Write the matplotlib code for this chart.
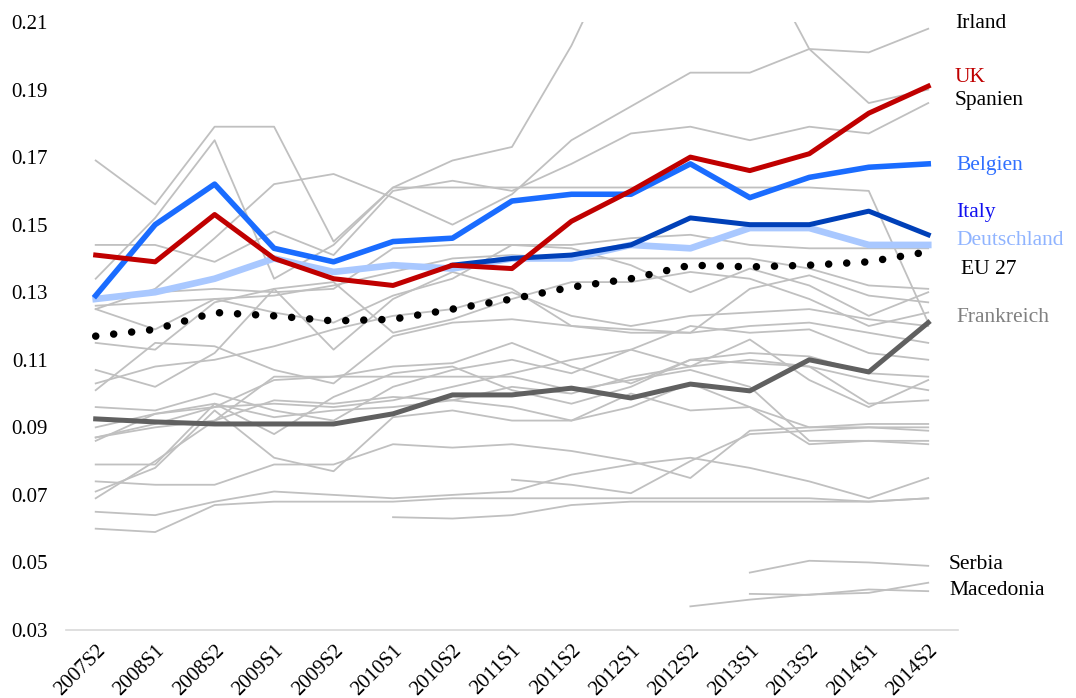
import matplotlib
matplotlib.use("Agg")
import matplotlib.pyplot as plt
import numpy as np

plt.rcParams['font.family'] = ['Liberation Serif', 'DejaVu Serif']

periods = ["2007S2", "2008S1", "2008S2", "2009S1", "2009S2", "2010S1", "2010S2",
           "2011S1", "2011S2", "2012S1", "2012S2", "2013S1", "2013S2", "2014S1", "2014S2"]
N = None

uk = [0.141, 0.139, 0.153, 0.140, 0.134, 0.132, 0.138, 0.137, 0.151, 0.160, 0.170, 0.166, 0.171, 0.183, 0.191]
belgien = [0.129, 0.150, 0.162, 0.143, 0.139, 0.145, 0.146, 0.157, 0.159, 0.159, 0.168, 0.158, 0.164, 0.167, 0.168]
italy = [N, N, N, N, N, N, 0.138, 0.140, 0.141, 0.144, 0.152, 0.150, 0.150, 0.154, 0.147]
deutschland = [0.128, 0.130, 0.134, 0.140, 0.136, 0.138, 0.137, 0.140, 0.140, 0.144, 0.143, 0.149, 0.149, 0.144, 0.144]
eu27 = [0.117, 0.119, 0.124, 0.123, 0.1215, 0.122, 0.125, 0.128, 0.1315, 0.134, 0.138, 0.1375, 0.138, 0.139, 0.142]
frankreich = [0.0925, 0.0916, 0.091, 0.091, 0.091, 0.094, 0.0996, 0.0996, 0.1016, 0.0987, 0.1028, 0.1008, 0.110, 0.1064, 0.121]

grey_lines = [
    [0.169, 0.156, 0.179, 0.179, 0.145, 0.161, 0.169, 0.173, 0.203, 0.240, 0.250, 0.235, 0.202, 0.186, 0.190],
    [0.134, 0.152, 0.175, 0.134, 0.144, 0.161, 0.161, 0.161, 0.161, 0.161, 0.161, 0.161, 0.161, 0.160, 0.121],
    [0.125, 0.131, 0.146, 0.162, 0.165, 0.158, 0.150, 0.159, 0.175, 0.185, 0.195, 0.195, 0.202, 0.201, 0.208],
    [0.144, 0.144, 0.139, 0.148, 0.141, 0.160, 0.163, 0.160, 0.168, 0.177, 0.179, 0.175, 0.179, 0.177, 0.186],
    [0.128, 0.130, 0.131, 0.130, 0.131, 0.143, 0.144, 0.144, 0.144, 0.146, 0.147, 0.144, 0.143, 0.143, 0.143],
    [0.126, 0.127, 0.128, 0.129, 0.132, 0.136, 0.140, 0.141, 0.140, 0.140, 0.140, 0.140, 0.137, 0.132, 0.131],
    [0.125, 0.119, 0.128, 0.124, 0.121, 0.129, 0.134, 0.144, 0.143, 0.138, 0.130, 0.137, 0.132, 0.123, 0.130],
    [0.115, 0.113, 0.127, 0.131, 0.113, 0.128, 0.136, 0.131, 0.120, 0.118, 0.118, 0.131, 0.135, 0.129, 0.127],
    [0.107, 0.102, 0.112, 0.131, 0.133, 0.118, 0.122, 0.128, 0.133, 0.133, 0.136, 0.134, 0.128, 0.120, 0.124],
    [0.103, 0.108, 0.110, 0.114, 0.119, 0.123, 0.125, 0.130, 0.123, 0.120, 0.123, 0.124, 0.125, 0.122, 0.120],
    [0.101, 0.115, 0.114, 0.107, 0.103, 0.117, 0.121, 0.122, 0.120, 0.119, 0.118, 0.120, 0.121, 0.118, 0.115],
    [0.096, 0.095, 0.100, 0.095, 0.092, 0.102, 0.107, 0.110, 0.106, 0.113, 0.120, 0.118, 0.119, 0.112, 0.110],
    [0.090, 0.094, 0.096, 0.104, 0.105, 0.108, 0.109, 0.115, 0.108, 0.103, 0.110, 0.112, 0.111, 0.106, 0.105],
    [0.087, 0.091, 0.096, 0.097, 0.096, 0.098, 0.102, 0.106, 0.110, 0.113, 0.108, 0.116, 0.104, 0.096, 0.104],
    [0.087, 0.090, 0.092, 0.098, 0.097, 0.099, 0.098, 0.102, 0.100, 0.105, 0.108, 0.110, 0.108, 0.104, 0.101],
    [0.086, 0.094, 0.097, 0.088, 0.099, 0.106, 0.108, 0.101, 0.097, 0.102, 0.110, 0.109, 0.108, 0.097, 0.098],
    [0.079, 0.079, 0.097, 0.093, 0.095, 0.096, 0.098, 0.096, 0.092, 0.100, 0.095, 0.096, 0.090, 0.091, 0.091],
    [0.074, 0.073, 0.073, 0.079, 0.079, 0.085, 0.084, 0.085, 0.083, 0.080, 0.075, 0.089, 0.090, 0.090, 0.089],
    [0.071, 0.078, 0.095, 0.081, 0.077, 0.093, 0.095, 0.092, 0.092, 0.096, 0.103, 0.096, 0.085, 0.086, 0.086],
    [0.069, 0.080, 0.092, 0.105, 0.105, 0.105, 0.105, 0.105, 0.101, 0.104, 0.107, 0.102, 0.086, 0.086, 0.085],
    [0.065, 0.064, 0.068, 0.071, 0.070, 0.069, 0.070, 0.071, 0.076, 0.079, 0.081, 0.078, 0.074, 0.069, 0.075],
    [0.060, 0.059, 0.067, 0.068, 0.068, 0.068, 0.069, 0.069, 0.069, 0.069, 0.069, 0.069, 0.069, 0.068, 0.069],
    [N, N, N, N, N, 0.0634, 0.063, 0.064, 0.067, 0.068, 0.068, 0.068, 0.068, 0.068, 0.069],
    [N, N, N, N, N, N, N, 0.0745, 0.073, 0.0705, 0.080, 0.088, 0.089, 0.090, 0.090],
    [N, N, N, N, N, N, N, N, N, N, N, 0.047, 0.0505, 0.050, 0.049],
    [N, N, N, N, N, N, N, N, N, N, N, 0.0407, 0.0404, 0.042, 0.0415],
    [N, N, N, N, N, N, N, N, N, N, 0.037, 0.039, 0.0405, 0.041, 0.044],
]

yticks = [0.03, 0.05, 0.07, 0.09, 0.11, 0.13, 0.15, 0.17, 0.19, 0.21]

def arr(v):
    return np.array([np.nan if a is None else a for a in v], dtype=float)

fig = plt.figure(figsize=(10.76, 6.98), dpi=100)
ax = fig.add_axes([0.0613, 0.0974, 0.8290, 0.8711])
x = np.arange(len(periods))

for g in grey_lines:
    ax.plot(x, arr(g), color='#c0c0c0', lw=1.3, zorder=1)

ax.plot(x, arr(frankreich), color='#606060', lw=3.6, zorder=3)
ax.plot(x, arr(eu27), color='black', lw=5.4, linestyle=(0, (0.01, 2.4)),
        dash_capstyle='round', zorder=4)
ax.plot(x, arr(deutschland), color='#a9c8ff', lw=4.8, zorder=5)
ax.plot(x, arr(italy), color='#0040b8', lw=3.6, zorder=6)
ax.plot(x, arr(belgien), color='#1a6cff', lw=4.0, zorder=7)
ax.plot(x, arr(uk), color='#c00000', lw=3.6, zorder=8)

ax.set_xlim(-0.5, 14.5)
ax.set_ylim(0.03, 0.21)
ax.set_yticks(yticks)
ax.set_yticklabels([f"{t:.2f}" for t in yticks])
ax.set_xticks(x)
ax.set_xticklabels(periods, rotation=45, ha='right', rotation_mode='anchor')
ax.tick_params(axis='both', length=0, labelsize=15, colors='black')
ax.tick_params(axis='y', pad=13)
ax.tick_params(axis='x', pad=8)
for s in ['top', 'right', 'left']:
    ax.spines[s].set_visible(False)
ax.spines['bottom'].set_color('#d9d9d9')
ax.spines['bottom'].set_linewidth(1.2)

labels = [
    ("Irland", 14.45, 0.2095, 'black'),
    ("UK", 14.45, 0.1937, '#c00000'),
    ("Spanien", 14.45, 0.1869, 'black'),
    ("Belgien", 14.47, 0.1674, '#3070ff'),
    ("Italy", 14.47, 0.1535, '#1010f0'),
    ("Deutschland", 14.47, 0.1452, '#90b4ff'),
    ("EU 27", 14.55, 0.1366, 'black'),
    ("Frankreich", 14.47, 0.1224, '#808080'),
    ("Serbia", 14.35, 0.0495, 'black'),
    ("Macedonia", 14.35, 0.0418, 'black'),
]
for t, lx, ly, c in labels:
    ax.text(lx, ly, t, color=c, fontsize=15.5, va='center', ha='left', clip_on=False)

fig.savefig("out.png", dpi=100)
